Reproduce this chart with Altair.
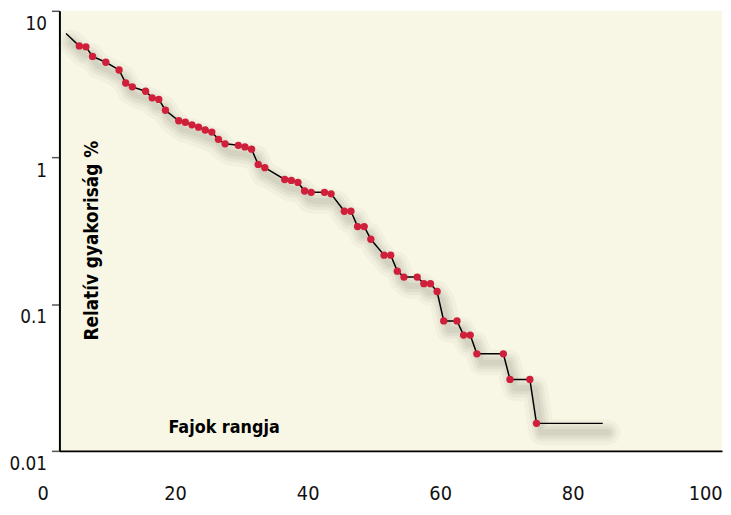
import altair as alt
import pandas as pd

# Rank of each marked species and its relative frequency (%)
ranks = [3, 4, 5, 7, 9, 10, 11, 13, 14, 15, 16, 18, 19, 20, 21, 22, 23, 24, 25, 27,
         28, 29, 30, 31, 34, 35, 36, 37, 38, 40, 41, 43, 44, 45, 46, 47, 49, 50, 51, 52,
         54, 55, 56, 57, 58, 60, 61, 62, 63, 67, 68, 71, 72]
values = [5.76, 5.68, 4.89, 4.46, 3.95, 3.22, 3.03, 2.83, 2.55, 2.49, 2.10, 1.78, 1.74,
          1.67, 1.61, 1.54, 1.49, 1.33, 1.24, 1.21, 1.18, 1.14, 0.897, 0.853, 0.708,
          0.698, 0.676, 0.591, 0.579, 0.579, 0.565, 0.430, 0.430, 0.338, 0.338, 0.277,
          0.216, 0.216, 0.168, 0.153, 0.153, 0.138, 0.138, 0.122, 0.0769, 0.0769,
          0.0616, 0.0616, 0.0459, 0.0459, 0.0307, 0.0307, 0.0154]

# line runs from rank 1 to rank 82 (unmarked end vertices)
line_start = (1, 7.0)
line_end = (82, 0.0154)

x_ticks = [0, 20, 40, 60, 80, 100]
y_ticks = [0.01, 0.1, 1, 10]

pts = pd.DataFrame({"rang": ranks, "gyak": values})
line_df = pd.DataFrame({
    "rang": [line_start[0]] + ranks + [line_end[0]],
    "gyak": [line_start[1]] + values + [line_end[1]],
})

FONT = "DejaVu Sans Condensed, DejaVu Sans, sans-serif"

xscale = alt.Scale(domain=[0, 100], nice=False)
yscale = alt.Scale(type="log", domain=[0.01, 10], nice=False)

xax = alt.Axis(values=x_ticks, title="Fajok rangja", grid=False, ticks=False,
               labelOffset=-17, labelPadding=33, labelFontSize=20, labelFont=FONT,
               labelColor="#111", domainColor="#000", domainWidth=2,
               titleFont=FONT, titleFontSize=18, titleFontWeight="bold", titleColor="#000",
               titleX=166, titleY=-19, titleAlign="center", titleBaseline="alphabetic",
               labelFlush=False, labelOverlap=False)
yax = alt.Axis(values=y_ticks, title="Relatív gyakoriság %", grid=False, ticks=True,
               tickSize=8, tickColor="#555", tickWidth=1.5,
               labelOffset=13, labelPadding=5, labelFontSize=19, labelFont=FONT,
               labelColor="#111", domainColor="#000", domainWidth=2,
               labelExpr="datum.value >= 1 ? format(datum.value, 'd') : format(datum.value, '')",
               titleFont=FONT, titleFontSize=19, titleFontWeight="bold", titleColor="#000",
               titleX=39, titleY=232, titleAngle=-90, titleAlign="center",
               titleBaseline="alphabetic", labelFlush=False, labelOverlap=False)

base = alt.Chart(line_df)

shadow_layers = []
for w, op in [(26, 0.045), (18, 0.055), (12, 0.065), (6, 0.075)]:
    shadow_layers.append(
        base.mark_line(color="#5e5e4e", strokeWidth=w, opacity=op, xOffset=5,
                       yOffset=9, strokeCap="round", strokeJoin="round").encode(
            x=alt.X("rang:Q", scale=xscale, axis=xax),
            y=alt.Y("gyak:Q", scale=yscale, axis=yax),
        )
    )

line = base.mark_line(color="#000", strokeWidth=1.5).encode(x="rang:Q", y="gyak:Q")

points = alt.Chart(pts).mark_circle(color="#cf1f3a", opacity=1, size=55).encode(
    x="rang:Q", y="gyak:Q")

chart = alt.layer(*shadow_layers, line, points).properties(
    width=670, height=445,
    autosize=alt.AutoSizeParams(type="none"),
    padding={"left": 52, "top": 0, "right": 1, "bottom": 62},
    background="#ffffff",
).configure_view(fill="#f8f7e5", stroke=None)

chart.save("out.html", embed_options={"renderer": "svg", "actions": False})
